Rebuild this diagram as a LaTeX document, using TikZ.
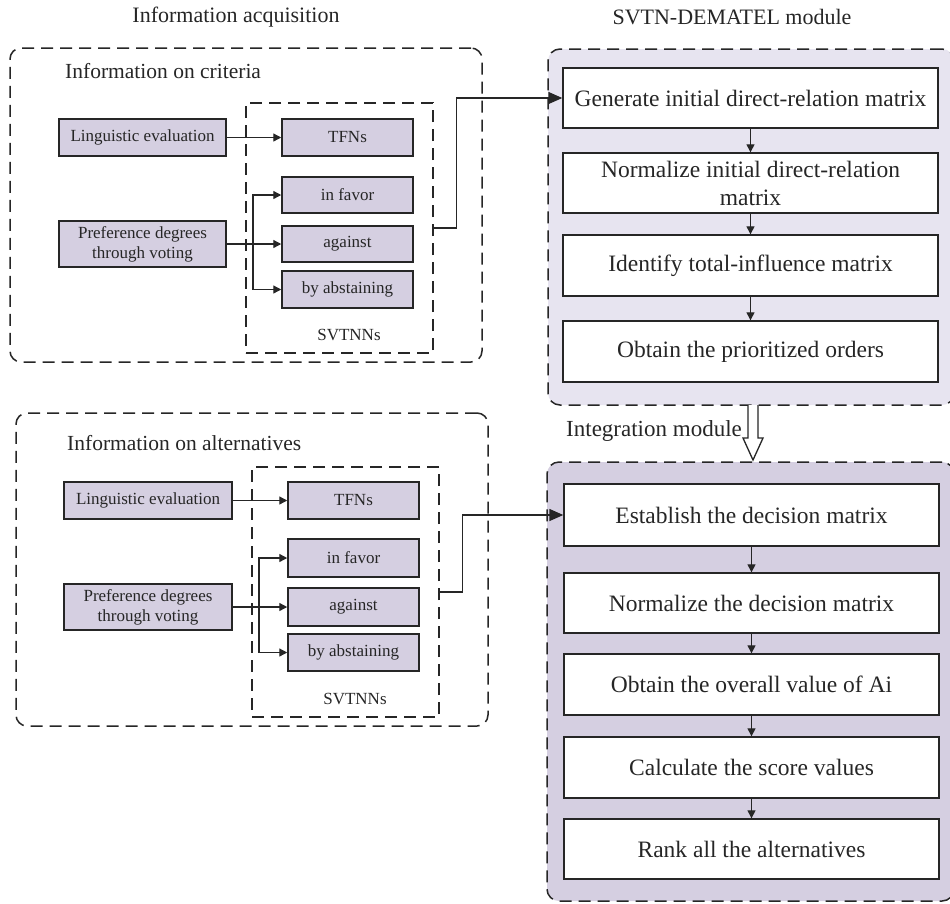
\documentclass[tikz,border=0pt]{standalone}
\usepackage{fontspec}
\setmainfont{Liberation Serif}
\usetikzlibrary{arrows.meta}
\definecolor{boxfill}{HTML}{D5CFE1}
\definecolor{panelAfill}{HTML}{E7E4F0}
\definecolor{panelBfill}{HTML}{D5CFE1}
\definecolor{ink}{HTML}{262626}
\begin{document}
\begin{tikzpicture}[x=1pt,y=-1pt,
  every node/.style={text=ink},
  lbox/.style={draw=ink, line width=1.5pt, fill=boxfill, inner sep=0pt, font=\fontsize{17}{20}\selectfont, align=center},
  rbox/.style={draw=ink, line width=1.4pt, fill=white, inner sep=0pt, minimum width=375pt, font=\fontsize{23.5}{28}\selectfont, align=center},
  dbox/.style={draw=ink, line width=1.5pt, dash pattern=on 12pt off 7pt, inner sep=0pt},
  arr/.style={draw=ink, line width=1.3pt, -{Triangle[length=8pt,width=8pt]}},
  bigarr/.style={draw=ink, line width=1.4pt, -{Triangle[length=14pt,width=12pt]}},
  heading/.style={inner sep=0pt, font=\fontsize{22}{26}\selectfont},
  small/.style={inner sep=0pt, font=\fontsize{17}{20}\selectfont}
]
\clip (0,0) rectangle (950,903);
\fill[white] (0,0) rectangle (950,903);

% titles
\node[heading] (tA) at (236,17) {Information acquisition};
\node[heading] (tB) at (732,17) {SVTN-DEMATEL module};

% ---------- right panels ----------
\node[dbox, fill=panelAfill, rounded corners=12pt, minimum width=406pt, minimum height=356pt] (panA) at (751,227) {};
\node[dbox, fill=panelBfill, rounded corners=12pt, minimum width=407pt, minimum height=439pt] (panB) at (750.5,681.5) {};

\node[rbox, minimum height=60pt] (gen) at (750.5,98) {Generate initial direct-relation matrix};
\node[rbox, minimum height=60pt] (nrmA) at (750.5,183) {Normalize initial direct-relation\\matrix};
\node[rbox, minimum height=61pt] (idt) at (750.5,265.5) {Identify total-influence matrix};
\node[rbox, minimum height=61pt] (obtA) at (750.5,351.5) {Obtain the prioritized orders};

\node[rbox, minimum height=62pt] (est) at (751.5,515) {Establish the decision matrix};
\node[rbox, minimum height=60pt] (nrmB) at (751.5,603) {Normalize the decision matrix};
\node[rbox, minimum height=61pt] (obtB) at (751.5,684.5) {Obtain the overall value of Ai};
\node[rbox, minimum height=61pt] (calc) at (751.5,767.5) {Calculate the score values};
\node[rbox, minimum height=60pt] (rank) at (751.5,849) {Rank all the alternatives};

\draw[arr] (gen) -- (nrmA);
\draw[arr] (nrmA) -- (idt);
\draw[arr] (idt) -- (obtA);
\draw[arr] (est) -- (nrmB);
\draw[arr] (nrmB) -- (obtB);
\draw[arr] (obtB) -- (calc);
\draw[arr] (calc) -- (rank);

% hollow arrow between panels
\draw[draw=ink, line width=1.3pt, fill=white, line join=miter]
  (748,405) -- (748,438) -- (743,438) -- (753,460) -- (763,438) -- (758,438) -- (758,405);
\node[heading, anchor=west, font=\fontsize{23}{26}\selectfont] (tC) at (566,431) {Integration module};

% ---------- top-left block ----------
\node[dbox, rounded corners=11pt, minimum width=472pt, minimum height=314pt] (outA) at (246,205) {};
\node[dbox, minimum width=187pt, minimum height=250pt] (inA) at (339.5,228) {};
\node[heading, anchor=west, font=\fontsize{21.5}{26}\selectfont] (hA) at (65,71) {Information on criteria};
\node[lbox, minimum width=167pt, minimum height=37pt] (lingA) at (142.5,137.5) {Linguistic evaluation};
\node[lbox, minimum width=167pt, minimum height=46pt] (prefA) at (142.5,244) {Preference degrees\\through voting};
\node[lbox, minimum width=131pt, minimum height=37pt] (tfnA) at (347.5,137.5) {TFNs};
\node[lbox, minimum width=131pt, minimum height=36pt] (favA) at (347.5,195) {in favor};
\node[lbox, minimum width=131pt, minimum height=36pt] (agA) at (347.5,244) {against};
\node[lbox, minimum width=131pt, minimum height=37pt] (absA) at (347.5,289.5) {by abstaining};
\node[small] (svA) at (349,335) {SVTNNs};
\coordinate (jA) at (253,244);
\draw[arr] (lingA) -- (tfnA);
\draw[arr] (prefA) -- (agA);
\draw[arr] (jA) |- (favA.west);
\draw[arr] (jA) |- (absA.west);
\draw[bigarr] (inA.east) -- ++(23,0) |- (gen.west);

% ---------- bottom-left block ----------
\node[dbox, rounded corners=11pt, minimum width=472pt, minimum height=313pt] (outB) at (252,569.5) {};
\node[dbox, minimum width=187pt, minimum height=250pt] (inB) at (345.5,592) {};
\node[heading, anchor=west, font=\fontsize{21.5}{26}\selectfont] (hB) at (67,443) {Information on alternatives};
\node[lbox, minimum width=168pt, minimum height=37pt] (lingB) at (148,500.5) {Linguistic evaluation};
\node[lbox, minimum width=168pt, minimum height=46pt] (prefB) at (148,607) {Preference degrees\\through voting};
\node[lbox, minimum width=131pt, minimum height=37pt] (tfnB) at (353.5,500.5) {TFNs};
\node[lbox, minimum width=131pt, minimum height=38pt] (favB) at (353.5,558) {in favor};
\node[lbox, minimum width=131pt, minimum height=38pt] (agB) at (353.5,607) {against};
\node[lbox, minimum width=131pt, minimum height=37pt] (absB) at (353.5,652.5) {by abstaining};
\node[small] (svB) at (355,699) {SVTNNs};
\coordinate (jB) at (259,607);
\draw[arr] (lingB) -- (tfnB);
\draw[arr] (prefB) -- (agB);
\draw[arr] (jB) |- (favB.west);
\draw[arr] (jB) |- (absB.west);
\draw[bigarr] (inB.east) -- ++(23,0) |- (est.west);
\end{tikzpicture}
\end{document}
